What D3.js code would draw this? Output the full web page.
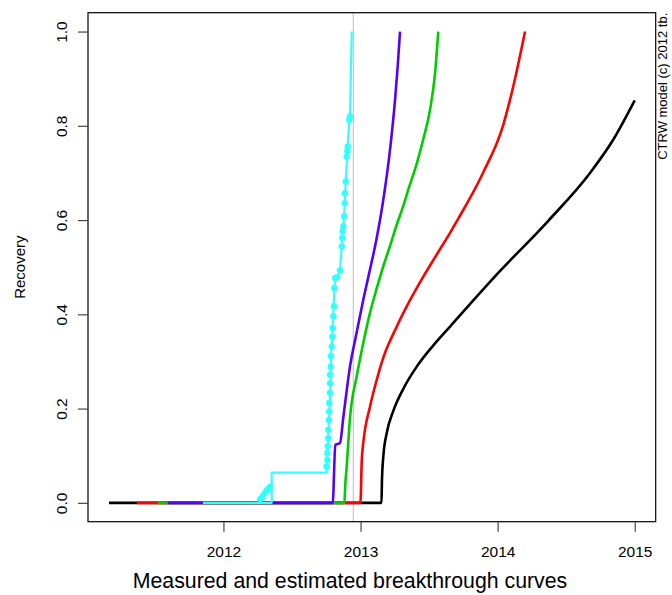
<!DOCTYPE html>
<html><head><meta charset="utf-8">
<script src="https://cdn.jsdelivr.net/npm/d3@7"></script>
<style>body{margin:0;background:#fff}svg{display:block}text{font-family:"Liberation Sans",Arial,Helvetica,sans-serif;fill:#000}</style>
</head><body><svg id="c" width="672" height="595"></svg>
<script>
// ---- data (year, recovery) ----
const xTicks = [2012, 2013, 2014, 2015];
const yTicks = [0, 0.2, 0.4, 0.6, 0.8, 1.0];
const yTickLabels = ["0.0", "0.2", "0.4", "0.6", "0.8", "1.0"];
const xTitle = "Measured and estimated breakthrough curves";
const yTitle = "Recovery";
const credit = "CTRW model (c) 2012 tb.";
const markerYear = 2012.947;

const blackCurve = [[2011.165,0],[2013.153,0],[2013.156,0.045],[2013.166,0.098],[2013.191,0.148],[2013.239,0.195],[2013.312,0.242],[2013.410,0.289],[2013.531,0.334],[2013.653,0.374],[2014.018,0.492],[2014.368,0.598],[2014.674,0.700],[2014.844,0.771],[2015.0,0.854]];
const redCurve = [[2011.368,0],[2012.999,0],[2013.009,0.091],[2013.020,0.127],[2013.069,0.204],[2013.118,0.261],[2013.166,0.308],[2013.264,0.374],[2013.361,0.430],[2013.458,0.480],[2013.556,0.527],[2013.653,0.573],[2013.711,0.602],[2013.893,0.700],[2014.039,0.800],[2014.127,0.900],[2014.200,1.0]];
const greenCurve = [[2011.521,0],[2012.882,0],[2012.889,0.04],[2012.899,0.077],[2012.923,0.180],[2012.972,0.268],[2013.020,0.339],[2013.069,0.403],[2013.118,0.455],[2013.166,0.502],[2013.215,0.545],[2013.264,0.590],[2013.312,0.630],[2013.349,0.665],[2013.410,0.720],[2013.458,0.772],[2013.507,0.834],[2013.543,0.910],[2013.567,1.0]];
const purpleCurve = [[2011.594,0],[2012.797,0],[2012.816,0.123],[2012.850,0.127],[2012.875,0.183],[2012.923,0.289],[2012.972,0.362],[2013.020,0.431],[2013.069,0.495],[2013.118,0.562],[2013.166,0.643],[2013.215,0.749],[2013.252,0.856],[2013.271,0.926],[2013.288,1.0]];
const cyanLine = [[2011.85,0],[2012.352,0],[2012.352,0.064],[2012.753,0.064],[2012.753,0.077],[2012.761,0.12],[2012.770,0.176],[2012.778,0.233],[2012.785,0.311],[2012.797,0.371],[2012.809,0.456],[2012.816,0.477],[2012.831,0.479],[2012.850,0.493],[2012.863,0.544],[2012.875,0.587],[2012.885,0.636],[2012.892,0.682],[2012.904,0.746],[2012.918,0.813],[2012.923,0.820],[2012.936,1.0]];
const measured = [[2012.268,0.008],[2012.283,0.013],[2012.298,0.019],[2012.313,0.025],[2012.328,0.030],[2012.343,0.034],
 [2012.753,0.077],[2012.758,0.091],[2012.758,0.106],[2012.761,0.120],[2012.765,0.137],[2012.765,0.155],[2012.770,0.176],[2012.772,0.194],[2012.772,0.212],[2012.778,0.233],[2012.778,0.254],[2012.778,0.272],[2012.783,0.289],[2012.785,0.311],[2012.790,0.332],[2012.794,0.353],[2012.797,0.371],[2012.802,0.396],[2012.807,0.417],[2012.809,0.456],[2012.816,0.477],[2012.831,0.479],[2012.850,0.493],[2012.863,0.544],[2012.867,0.562],[2012.870,0.576],[2012.875,0.587],[2012.880,0.608],[2012.885,0.636],[2012.887,0.657],[2012.892,0.682],[2012.899,0.735],[2012.904,0.746],[2012.907,0.756],[2012.918,0.813],[2012.923,0.820]];

const series = [
  {name:"black", color:"#000000", data:blackCurve, w:2.6, smooth:true},
  {name:"red", color:"#ff0000", data:redCurve, w:2.6, smooth:true},
  {name:"green", color:"#00cd00", data:greenCurve, w:2.6, smooth:true},
  {name:"purple", color:"#5500ff", data:purpleCurve, w:2.6, smooth:true},
  {name:"cyan", color:"#33ffff", data:cyanLine, w:2.2, smooth:false}
];

// ---- layout ----
const L = 88, R = 655.7, T = 12.7, B = 521.7;
const x = d3.scaleLinear().domain([2011.012, 2015.153]).range([L, R]);
const y = d3.scaleLinear().domain([-0.04, 1.04]).range([B, T]);
const svg = d3.select("#c");

// marker line
svg.append("line").attr("x1", x(markerYear)).attr("x2", x(markerYear))
  .attr("y1", T).attr("y2", B).attr("stroke", "#bdbdbd").attr("stroke-width", 1);

const smoothLine = d3.line().x(d => x(d[0])).y(d => y(d[1])).curve(d3.curveMonotoneX);
const plainLine = d3.line().x(d => x(d[0])).y(d => y(d[1]));
svg.selectAll("path.s").data(series).enter().append("path").attr("class","s")
  .attr("d", d => (d.smooth ? smoothLine : plainLine)(d.data)).attr("fill","none")
  .attr("stroke", d => d.color).attr("stroke-width", d => d.w)
  .attr("stroke-linejoin","round");

svg.selectAll("circle.m").data(measured).enter().append("circle").attr("class","m")
  .attr("cx", d => x(d[0])).attr("cy", d => y(d[1])).attr("r", 3.2)
  .attr("fill", "#33ffff");

// box
svg.append("rect").attr("x", L).attr("y", T).attr("width", R - L).attr("height", B - T)
  .attr("fill","none").attr("stroke","#000").attr("stroke-width",1.2);

// x axis
const xa = svg.append("g").attr("transform", `translate(0,${B})`)
  .call(d3.axisBottom(x).tickValues(xTicks).tickFormat(d3.format("d")).tickSize(10).tickPadding(14));
xa.select(".domain").remove();
xa.selectAll("line").attr("stroke","#444").attr("stroke-width",1.2);
xa.selectAll("text").style("font-size","15.5px").attr("fill","#000");

// y axis
const ya = svg.append("g").attr("transform", `translate(${L},0)`)
  .call(d3.axisLeft(y).tickValues(yTicks).tickFormat((d,i) => yTickLabels[i]).tickSize(10));
ya.select(".domain").remove();
ya.selectAll("line").attr("stroke","#444").attr("stroke-width",1.2);
ya.selectAll("text").attr("x", null).attr("dy", null)
  .attr("transform", "translate(-21,0) rotate(-90)")
  .attr("text-anchor","middle").style("font-size","15.5px").attr("fill","#000");

// titles
svg.append("text").attr("x", 350).attr("y", 588).attr("text-anchor","middle")
  .style("font-size","21.3px").attr("fill","#222").text(xTitle);
svg.append("text").attr("transform", `translate(25,${(T + B) / 2}) rotate(-90)`)
  .attr("text-anchor","middle").style("font-size","15px").text(yTitle);
svg.append("text").attr("transform", `translate(667,${T}) rotate(-90)`)
  .attr("text-anchor","end").style("font-size","13px").text(credit);
</script></body></html>
